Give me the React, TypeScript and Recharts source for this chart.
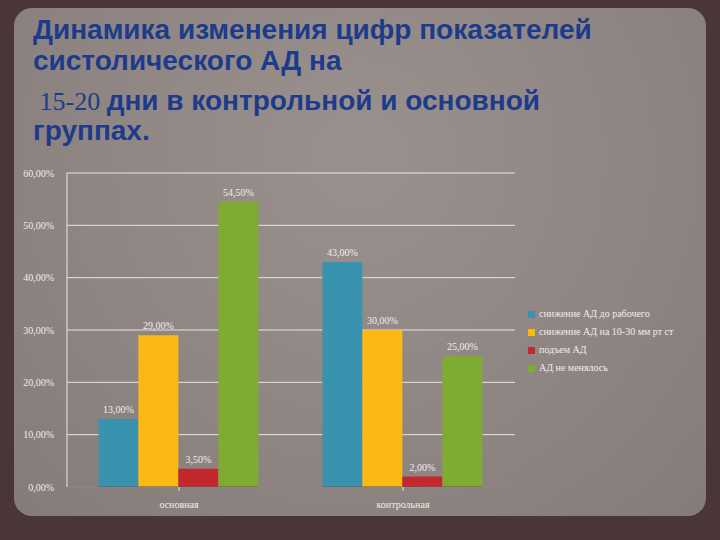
import React from 'react';
import { BarChart, Bar, XAxis, YAxis, CartesianGrid, Legend, LabelList } from 'recharts';

const categories = ['основная', 'контрольная'];
const seriesNames = [
  'снижение АД до рабочего',
  'снижение АД на 10-30 мм рт ст',
  'подъем АД',
  'АД не менялось',
];
const s1 = [13, 43];
const s2 = [29, 30];
const s3 = [3.5, 2];
const s4 = [54.5, 25];
const yTicks = [0, 10, 20, 30, 40, 50, 60];
const colors = ['#3a93ae', '#fdb913', '#c3282d', '#7fab33'];

const data = categories.map((c, i) => ({ name: c, a: s1[i], b: s2[i], c: s3[i], d: s4[i] }));
const keys = ['a', 'b', 'c', 'd'];

const fmt = (v: number) => v.toFixed(2).replace('.', ',') + '%';

export default function App() {
  return (
    <div style={{ position: 'absolute', left: 0, top: 0, width: 720, height: 540, background: '#4a3537', overflow: 'hidden' }}>
      <div style={{ position: 'absolute', left: 14, top: 8, width: 692, height: 508, background: 'radial-gradient(ellipse at 50% 30%, #9a918f 0%, #8e8583 60%, #857b79 100%)', borderRadius: 18 }} />
      <div style={{ position: 'absolute', left: 33, top: 0, fontFamily: '"Liberation Sans", Arial, sans-serif', fontWeight: 'bold', fontSize: 28, color: '#1c3b8a', lineHeight: '1' }}>
        <div style={{ position: 'absolute', top: 16, whiteSpace: 'nowrap' }}>Динамика изменения цифр показателей</div>
        <div style={{ position: 'absolute', top: 47, whiteSpace: 'nowrap' }}>систолического АД на</div>
        <div style={{ position: 'absolute', top: 87, whiteSpace: 'nowrap' }}>
          <span style={{ fontFamily: '"Liberation Serif", serif', fontWeight: 'normal', fontSize: 26 }}>&nbsp;15-20 </span> дни в контрольной и основной
        </div>
        <div style={{ position: 'absolute', top: 117, whiteSpace: 'nowrap' }}>группах.</div>
      </div>
      <div style={{ position: 'absolute', left: 0, top: 0 }}>
        <BarChart width={720} height={540} data={data} margin={{ top: 173, right: 205, bottom: 23, left: 0 }} barCategoryGap="14%" barGap={0}>
          <CartesianGrid horizontal vertical={false} stroke="#e8e4e2" strokeWidth={1} />
          <XAxis dataKey="name" stroke="#5e5655" tick={{ fill: '#f0ecea', fontSize: 10, fontFamily: '"Liberation Serif", serif' }} tickLine={{ stroke: '#e8e4e2' }} tickSize={4} interval={0} height={30} tickMargin={10} />
          <YAxis width={67} domain={[0, 60]} ticks={yTicks} tickFormatter={fmt} stroke="#e8e4e2" tickLine={false} tick={{ fill: '#f0ecea', fontSize: 10, fontFamily: '"Liberation Serif", serif' }} tickMargin={7} />
          <Legend layout="vertical" align="center" verticalAlign="middle" iconType="square" iconSize={7} itemSorter="dataKey"
            wrapperStyle={{ position: 'absolute', left: 528, top: 305, width: 190, fontSize: 10, fontFamily: '"Liberation Serif", serif', lineHeight: '18px', textAlign: 'left' }}
            formatter={(v: string) => <span style={{ color: '#f0ecea' }}>{v}</span>} />
          {keys.map((k, i) => (
            <Bar key={k} dataKey={k} name={seriesNames[i]} fill={colors[i]} isAnimationActive={false}>
              <LabelList dataKey={k} position="top" offset={6} formatter={(v: number) => fmt(v)} style={{ fill: '#f0ecea', fontSize: 10, fontFamily: '"Liberation Serif", serif' }} />
            </Bar>
          ))}
        </BarChart>
      </div>
    </div>
  );
}
